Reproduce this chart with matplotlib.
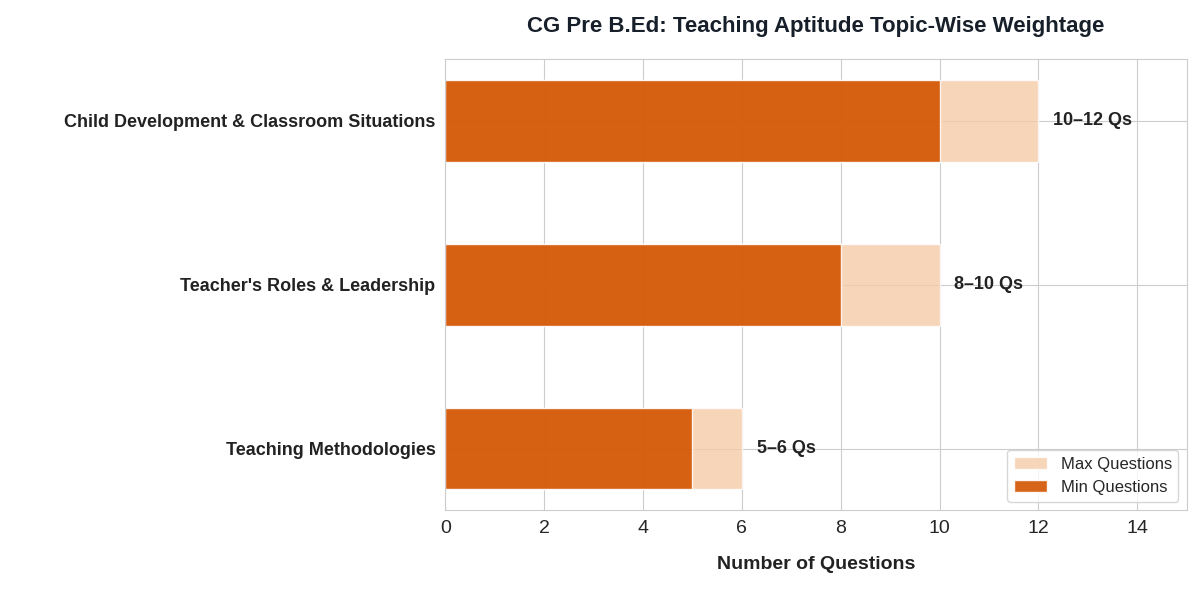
import matplotlib
matplotlib.use("Agg")
import matplotlib.pyplot as plt
import seaborn as sns

sns.set_style("whitegrid")
plt.rcParams['font.family'] = ['Liberation Sans', 'DejaVu Sans']

topics = ["Teaching Methodologies", "Teacher's Roles & Leadership", "Child Development & Classroom Situations"]
min_q = [5, 8, 10]
max_q = [6, 10, 12]
labels = ["5–6 Qs", "8–10 Qs", "10–12 Qs"]

fig, ax = plt.subplots(figsize=(12, 5.93), dpi=100)
fig.subplots_adjust(left=0.371, right=0.989, top=0.9, bottom=0.14)
y = range(len(topics))
ax.barh(y, max_q, height=0.5, color="#f5cba7", alpha=0.8, label="Max Questions")
ax.barh(y, min_q, height=0.5, color="#d35400", alpha=0.9, label="Min Questions")
for yi, m, l in zip(y, max_q, labels):
    ax.text(m + 0.3, yi, l, va="center", ha="left", fontsize=13, fontweight="bold", color="#222222")
ax.set_yticks(list(y))
ax.set_yticklabels(topics, fontsize=13, fontweight="bold", color="#222222")
ax.set_xlim(0, 15)
ax.set_xticks(range(0, 15, 2))
ax.tick_params(axis='x', labelsize=14)
ax.set_xlabel("Number of Questions", fontsize=14, fontweight="bold", labelpad=14, color="#222222")
ax.set_title("CG Pre B.Ed: Teaching Aptitude Topic-Wise Weightage", fontsize=16, fontweight="bold", color="#17202a", pad=20)
for s in ax.spines.values():
    s.set_color("#cccccc")
ax.legend(loc="lower right", fontsize=12, frameon=True)
fig.savefig("out.png", dpi=100)
